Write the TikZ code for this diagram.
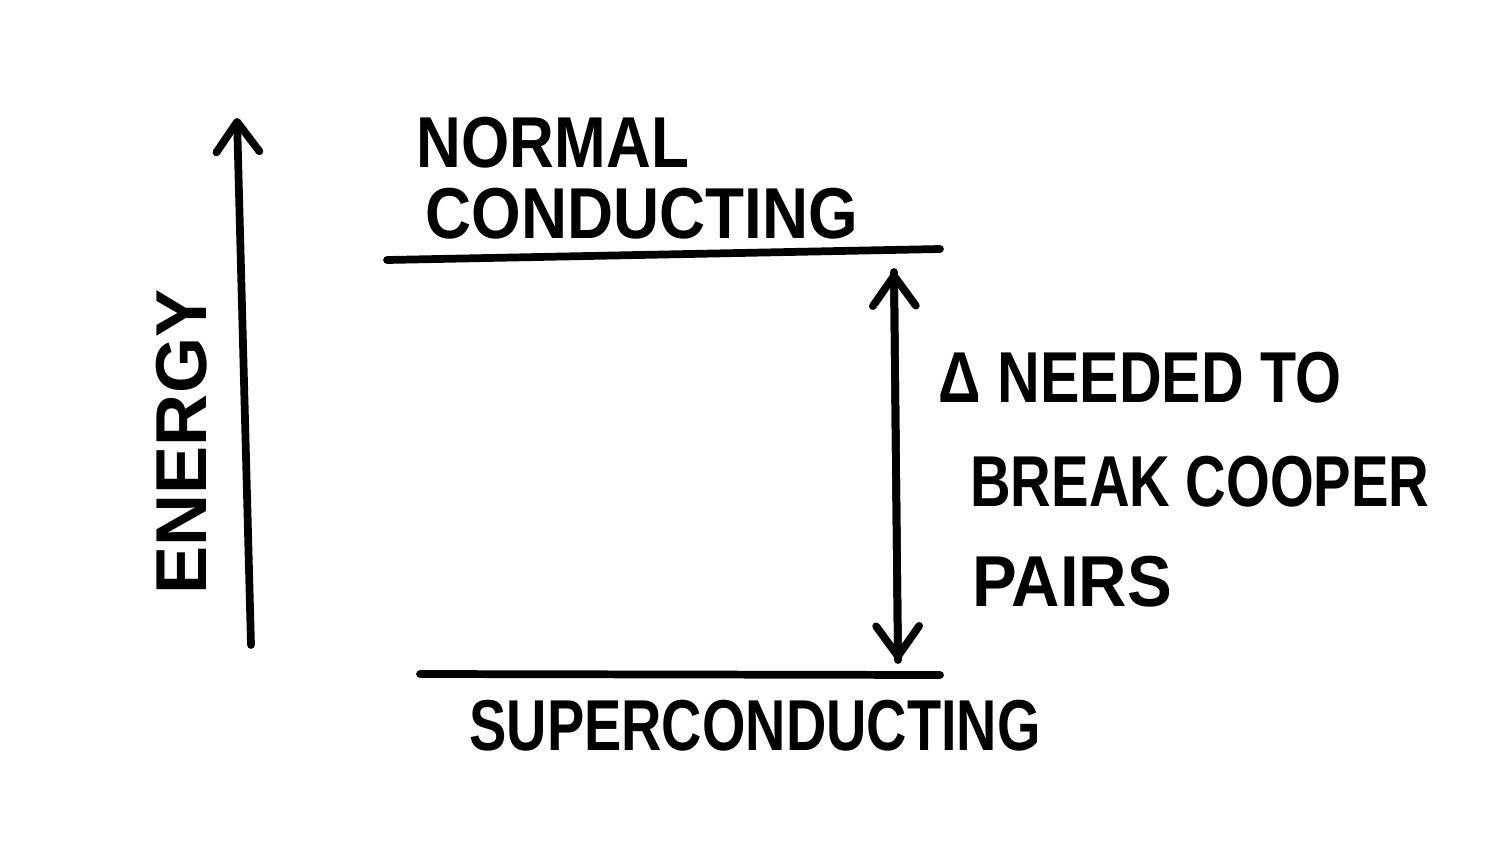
\documentclass[tikz,border=0pt]{standalone}
\usepackage{fontspec}
\setmainfont{Liberation Sans}
\usetikzlibrary{arrows.meta}

\tikzset{
  pen/.style={line width=2.2pt, line cap=round},
  barb/.style={-{Straight Barb[round, length=3mm, width=4.3mm]}},
  lbl/.style={inner sep=0pt, font=\fontsize{20.5}{24}\selectfont\bfseries}
}

\begin{document}
\begin{tikzpicture}[x=0.01cm, y=-0.01cm]
    \useasboundingbox (0,0) rectangle (1502,842);

    % --- Energia tengely (Energy axis) ---
    \coordinate (ebot) at (251,645);
    \coordinate (etop) at (237,118);
    \draw[pen, barb] (ebot) -- (etop);
    \node[lbl, rotate=90] (energy) at (182,442) {ENERGY};

    % --- Normál állapot szintje (Normal conducting level) ---
    \coordinate (nleft) at (387,260);
    \coordinate (nright) at (940,249);
    \draw[pen] (nleft) -- (nright);
    \node[lbl, xscale=0.86] (normal) at (553,143) {NORMAL};
    \node[lbl, xscale=0.885] (conducting) at (642,214) {CONDUCTING};

    % --- Szupravezető szint (Superconducting level) ---
    \coordinate (sleft) at (420,674);
    \coordinate (sright) at (940,675);
    \draw[pen] (sleft) -- (sright);
    \node[lbl, xscale=0.775] (super) at (755,726) {SUPERCONDUCTING};

    % --- Energiarés (Gap) ---
    \coordinate (gtop) at (894,272);
    \coordinate (gbot) at (898,660);
    \draw[pen, barb] (gtop) -- (gbot);
    \draw[pen, barb] (gbot) -- (gtop);
    \node[lbl, xscale=0.82] (gap1) at (1140,378) {Δ NEEDED TO};
    \node[lbl, xscale=0.78] (gap2) at (1200,482) {BREAK COOPER};
    \node[lbl, xscale=0.93] (gap3) at (1072,582) {PAIRS};
\end{tikzpicture}
\end{document}
